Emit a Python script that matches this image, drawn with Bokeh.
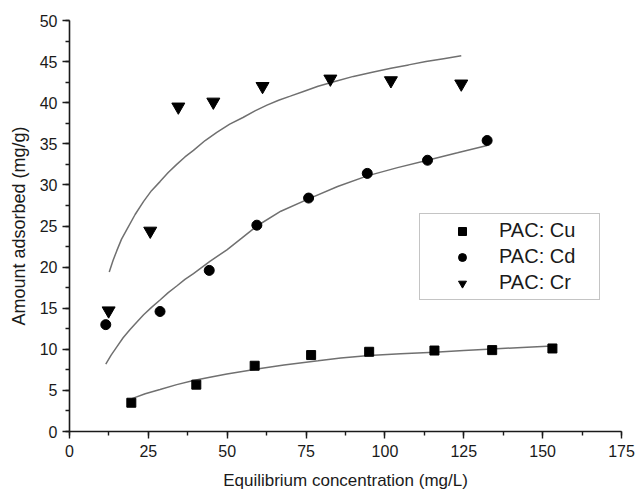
from bokeh.plotting import figure
from bokeh.models import Range1d, SingleIntervalTicker, Legend, LegendItem
from bokeh.embed import file_html
from bokeh.resources import INLINE

# Measured adsorption data (equilibrium concentration in mg/L, amount adsorbed in mg/g)
cu_x = [19.6, 40.2, 58.7, 76.6, 95.0, 115.7, 134.0, 153.1]
cu_y = [3.5, 5.7, 8.0, 9.3, 9.7, 9.85, 9.9, 10.1]

cd_x = [11.5, 28.7, 44.3, 59.4, 75.8, 94.4, 113.5, 132.4]
cd_y = [13.0, 14.6, 19.6, 25.1, 28.4, 31.4, 33.0, 35.4]

cr_x = [12.4, 25.6, 34.5, 45.6, 61.2, 82.7, 101.9, 124.2]
cr_y = [14.7, 24.4, 39.5, 40.1, 42.0, 42.9, 42.7, 42.3]

# Fitted isotherm curves
cu_fit_x = [19.8, 24.0, 28.7, 34.0, 39.3, 44.5, 49.9, 59.4, 68.0, 78.8, 86.0, 95.0, 105.0, 115.7, 125.0, 134.0, 143.5, 153.0]
cu_fit_y = [4.0, 4.6, 5.1, 5.7, 6.2, 6.6, 7.0, 7.6, 8.1, 8.6, 8.95, 9.25, 9.45, 9.65, 9.85, 10.05, 10.22, 10.4]

cd_fit_x = [11.5, 13.2, 15.0, 17.0, 19.2, 21.3, 23.5, 26.0, 28.7, 31.3, 34.0, 36.6, 39.3, 44.5, 49.9, 54.5, 59.4, 67.0, 75.8, 85.0, 94.4, 104.0, 113.5, 123.0, 132.4]
cd_fit_y = [8.2, 9.3, 10.3, 11.4, 12.4, 13.3, 14.2, 15.1, 16.0, 16.9, 17.7, 18.5, 19.2, 20.7, 22.1, 23.5, 25.0, 26.8, 28.3, 29.8, 31.1, 32.1, 33.0, 33.9, 34.8]

cr_fit_x = [12.6, 13.8, 15.0, 16.5, 18.2, 20.8, 23.5, 26.0, 28.7, 31.3, 34.0, 36.6, 39.3, 43.0, 46.7, 50.8, 55.0, 58.8, 62.6, 66.3, 70.0, 74.4, 78.8, 84.4, 90.0, 96.0, 101.9, 107.5, 113.0, 118.6, 124.2]
cr_fit_y = [19.4, 20.8, 22.0, 23.4, 24.6, 26.4, 28.0, 29.3, 30.4, 31.5, 32.5, 33.4, 34.2, 35.4, 36.4, 37.4, 38.2, 39.0, 39.7, 40.3, 40.8, 41.4, 42.0, 42.6, 43.2, 43.7, 44.2, 44.6, 45.0, 45.35, 45.7]

series_labels = ["PAC: Cu", "PAC: Cd", "PAC: Cr"]

FONT = "Liberation Sans"
INK = "#1a1a1a"
FIT = "#707070"

p = figure(
    width=638, height=492,
    x_range=Range1d(0, 175), y_range=Range1d(0, 50),
    output_backend="svg", toolbar_location=None,
    min_border_left=69, min_border_right=17,
    min_border_top=20, min_border_bottom=61,
)
p.outline_line_color = None
p.xgrid.visible = False
p.ygrid.visible = False
p.background_fill_color = "white"
p.border_fill_color = "white"

xax = p.xaxis[0]
yax = p.yaxis[0]
xax.ticker = SingleIntervalTicker(interval=25, num_minor_ticks=2)
yax.ticker = SingleIntervalTicker(interval=5, num_minor_ticks=2)
xax.axis_label = "Equilibrium concentration (mg/L)"
yax.axis_label = "Amount adsorbed (mg/g)"

for ax in (xax, yax):
    ax.axis_line_color = INK
    ax.axis_line_width = 1.6
    ax.major_tick_line_color = INK
    ax.minor_tick_line_color = INK
    ax.major_tick_line_width = 1.4
    ax.minor_tick_line_width = 1.4
    ax.major_tick_in = 0
    ax.major_tick_out = 7
    ax.minor_tick_in = 0
    ax.minor_tick_out = 4
    ax.major_label_text_font = FONT
    ax.major_label_text_font_size = "16px"
    ax.major_label_text_color = INK
    ax.axis_label_text_font = FONT
    ax.axis_label_text_font_style = "normal"
    ax.axis_label_text_color = INK

xax.major_label_standoff = 6
yax.major_label_standoff = 5
xax.axis_label_text_font_size = "17px"
yax.axis_label_text_font_size = "18px"
xax.axis_label_standoff = 11
yax.axis_label_standoff = 8

# Fitted curves
p.line(cu_fit_x, cu_fit_y, line_color=FIT, line_width=1.5)
p.line(cd_fit_x, cd_fit_y, line_color=FIT, line_width=1.5)
p.line(cr_fit_x, cr_fit_y, line_color=FIT, line_width=1.5)

# Experimental points
r_cu = p.scatter(cu_x, cu_y, marker="square", size=9, fill_color="black", line_color="black")
r_cd = p.scatter(cd_x, cd_y, marker="circle", size=10, fill_color="black", line_color="black")
r_cr = p.scatter(cr_x, cr_y, marker="inverted_triangle", size=13, fill_color="black", line_color="black")

legend = Legend(
    items=[
        LegendItem(label=series_labels[0], renderers=[r_cu]),
        LegendItem(label=series_labels[1], renderers=[r_cd]),
        LegendItem(label=series_labels[2], renderers=[r_cr]),
    ],
    location=(350, 131),
    orientation="vertical",
    padding=5,
    spacing=3,
    glyph_width=74,
    glyph_height=20,
    label_height=20,
    label_width=95,
    label_standoff=0,
    label_text_font=FONT,
    label_text_font_size="20px",
    label_text_color=INK,
    border_line_color="#8a8a8a",
    border_line_width=1.5,
    background_fill_color="white",
    background_fill_alpha=1.0,
    margin=0,
)
p.add_layout(legend, "center")

open("out.html", "w").write(file_html(p, INLINE))
